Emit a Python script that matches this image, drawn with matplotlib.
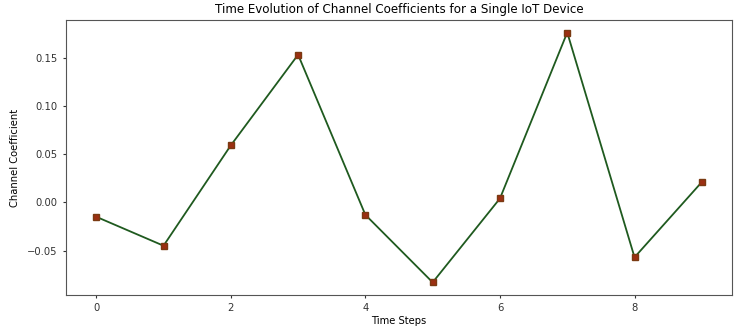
import matplotlib
matplotlib.use("Agg")
import matplotlib.pyplot as plt

time_steps = [0, 1, 2, 3, 4, 5, 6, 7, 8, 9]
coefficients = [-0.015, -0.045, 0.059, 0.153, -0.013, -0.083, 0.004, 0.176, -0.057, 0.021]

fig, ax = plt.subplots(figsize=(7.41, 3.28), dpi=100)
fig.subplots_adjust(left=0.089, right=0.988, top=0.939, bottom=0.101)

ax.plot(time_steps, coefficients, color="#1f5a1f", linewidth=1.3,
        marker="s", markersize=4.5, markerfacecolor="#9c2f12", markeredgecolor="#7a3a12")

ax.set_title("Time Evolution of Channel Coefficients for a Single IoT Device", fontsize=8.6, pad=5)
ax.set_xlabel("Time Steps", fontsize=7.2, labelpad=2)
ax.set_ylabel("Channel Coefficient", fontsize=7.2, labelpad=5)
ax.tick_params(labelsize=7.2, length=2.5, colors="#333333")
for s in ax.spines.values():
    s.set_color("#555555")

fig.savefig("out.png", dpi=100)
